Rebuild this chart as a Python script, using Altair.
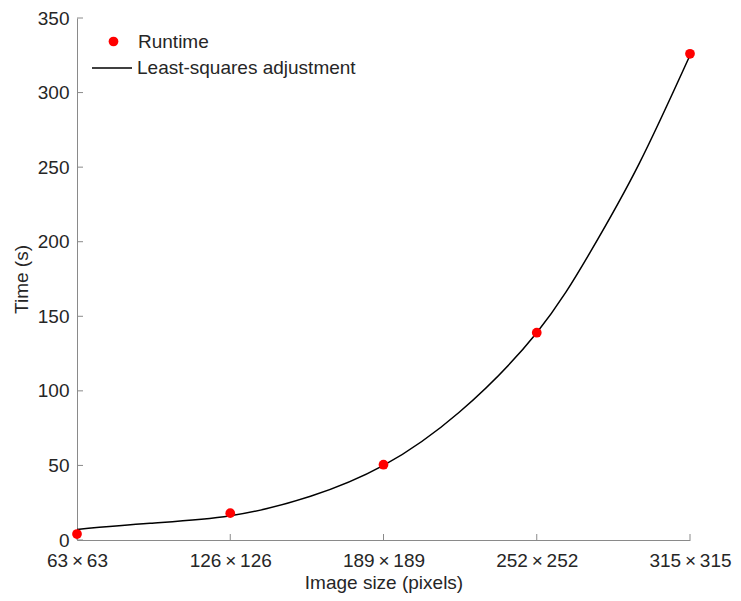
import altair as alt
import pandas as pd

# Data
sizes = [63, 126, 189, 252, 315]
runtime = [4.0, 18.0, 50.5, 139.0, 326.0]

fit_x = [63, 93, 126, 159, 189, 220, 252, 274, 294, 315]
fit_y = [7.1, 11.2, 16.2, 29.3, 50.0, 85.5, 139.0, 193.0, 252.0, 325.0]

y_ticks = [0, 50, 100, 150, 200, 250, 300, 350]

W, H = 613, 522
FONT = "Liberation Sans"
FS = 19
AXIS_GRAY = "#8a8a8a"
TEXT = "#262626"

pts = pd.DataFrame({"size": sizes, "time": runtime, "series": ["Runtime"] * len(sizes)})
fit = pd.DataFrame({"size": fit_x, "time": fit_y,
                    "series": ["Least-squares adjustment"] * len(fit_x)})
xt = pd.DataFrame({"size": sizes})
yt = pd.DataFrame({"time": y_ticks})

xscale = alt.Scale(domain=[63, 315], nice=False)
yscale = alt.Scale(domain=[0, 350], nice=False)

x_axis = alt.Axis(values=sizes, labelExpr="datum.value + '\u2009×\u2009' + datum.value",
                  ticks=False, grid=False, domainColor=AXIS_GRAY, domainWidth=1,
                  labelFont=FONT, labelFontSize=FS, labelColor=TEXT, labelPadding=11,
                  title="Image size (pixels)", titleFont=FONT, titleFontSize=FS,
                  titleFontWeight="normal", titleColor=TEXT, titlePadding=3,
                  labelFlush=False, labelOverlap=False)
y_axis = alt.Axis(values=y_ticks, ticks=False, grid=False, domainColor=AXIS_GRAY,
                  domainWidth=1, labelFont=FONT, labelFontSize=FS, labelColor=TEXT,
                  labelPadding=8, title="Time (s)", titleFont=FONT, titleFontSize=FS,
                  titleFontWeight="normal", titleColor=TEXT, titlePadding=6,
                  labelOverlap=False)

line = alt.Chart(fit).mark_line(strokeWidth=1.5, interpolate="natural").encode(
    x=alt.X("size:Q", scale=xscale, axis=x_axis),
    y=alt.Y("time:Q", scale=yscale, axis=y_axis),
    color=alt.Color("series:N",
                    scale=alt.Scale(domain=["Least-squares adjustment"], range=["#000000"]),
                    legend=alt.Legend(title=None, orient="none", legendX=14, legendY=29,
                                      symbolType="stroke", symbolSize=1600,
                                      symbolStrokeWidth=1.5, labelFont=FONT,
                                      labelFontSize=FS, labelColor=TEXT, labelOffset=4,
                                      labelLimit=400, padding=0)),
)

points = alt.Chart(pts).mark_circle(size=95, opacity=1).encode(
    x=alt.X("size:Q", scale=xscale),
    y=alt.Y("time:Q", scale=yscale),
    color=alt.Color("series:N",
                    scale=alt.Scale(domain=["Runtime"], range=["#ff0000"]),
                    legend=alt.Legend(title=None, orient="none", legendX=27, legendY=14,
                                      symbolType="circle", symbolSize=95,
                                      symbolStrokeWidth=0, labelFont=FONT,
                                      labelFontSize=FS, labelColor=TEXT, labelOffset=15,
                                      labelLimit=400, padding=0)),
)

xticks = alt.Chart(xt).mark_rule(color=AXIS_GRAY, strokeWidth=1).encode(
    x=alt.X("size:Q", scale=xscale),
    y=alt.value(H), y2=alt.value(H - 6),
)
yticks = alt.Chart(yt).mark_rule(color=AXIS_GRAY, strokeWidth=1).encode(
    y=alt.Y("time:Q", scale=yscale),
    x=alt.value(0), x2=alt.value(6),
)

chart = alt.layer(xticks, yticks, line, points).resolve_scale(
    color="independent"
).properties(
    width=W, height=H,
    autosize=alt.AutoSizeParams(type="none"),
    padding={"left": 69, "top": 10, "right": 43, "bottom": 53},
    background="white",
).configure_view(stroke=None)

chart.save("out.html", embed_options={"renderer": "svg", "actions": False})
